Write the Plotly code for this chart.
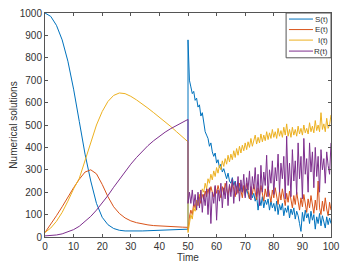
import numpy as np
import plotly.graph_objects as go

# deterministic part, t = 0..50 step 2
t_det = np.arange(0, 51, 2)
S_det = [1000, 985, 945, 880, 785, 660, 515, 370, 250, 150, 88, 55, 38, 30, 27, 26, 26, 27, 28, 29, 30, 31, 32, 33, 34, 35]
E_det = [20, 55, 95, 135, 180, 220, 258, 290, 300, 282, 235, 180, 135, 105, 85, 72, 64, 58, 54, 51, 49, 47, 46, 45, 44, 43]
I_det = [20, 40, 70, 110, 160, 215, 262, 340, 425, 500, 560, 605, 632, 643, 640, 628, 612, 595, 575, 555, 535, 515, 493, 470, 448, 425]
R_det = [5, 6, 9, 14, 22, 33, 48, 68, 92, 120, 150, 185, 222, 258, 292, 325, 355, 383, 408, 430, 450, 468, 484, 498, 512, 525]

# stochastic part, t = 50..100 step 0.5
t_sto = np.arange(50, 100.01, 0.5)
S_sto = [880, 700, 670, 640, 650, 610, 620, 580, 590, 540, 555, 500, 470, 455, 440, 405, 420, 380, 360, 375,
         330, 345, 310, 325, 290, 305, 275, 260, 285, 250, 240, 265, 230, 250, 215, 240, 205, 230, 200, 225,
         185, 215, 190, 170, 210, 175, 195, 160, 185, 120, 170, 140, 180, 130, 165, 145, 170, 120, 160, 130,
         150, 115, 160, 100, 145, 120, 150, 95, 130, 110, 140, 85, 125, 100, 130, 80, 115, 95, 60, 25,
         110, 70, 120, 85, 105, 60, 115, 75, 100, 35, 90, 60, 105, 50, 95, 70, 40, 90, 55, 85, 60]
E_sto = [30, 90, 120, 100, 150, 130, 165, 140, 180, 150, 190, 170, 205, 180, 215, 190, 225, 200, 180, 225,
         195, 230, 200, 175, 225, 190, 240, 205, 185, 230, 200, 245, 210, 180, 225, 195, 240, 205, 175, 230,
         195, 240, 200, 170, 225, 190, 235, 195, 165, 220, 185, 230, 190, 160, 215, 180, 225, 185, 155, 210,
         175, 220, 180, 145, 205, 165, 215, 170, 140, 195, 155, 205, 160, 130, 185, 145, 200, 150, 120, 175,
         135, 190, 140, 110, 170, 130, 185, 135, 105, 165, 120, 250, 130, 100, 160, 115, 175, 125, 95, 155, 120]
I_sto = [20, 60, 100, 80, 130, 115, 165, 145, 190, 170, 215, 200, 240, 215, 260, 240, 280, 255, 295, 270,
         310, 285, 320, 300, 340, 315, 350, 325, 365, 335, 370, 345, 385, 355, 395, 365, 405, 375, 410, 385,
         420, 390, 425, 400, 440, 405, 430, 455, 415, 445, 420, 460, 425, 455, 430, 470, 435, 465, 440, 480,
         445, 470, 440, 485, 450, 475, 445, 490, 455, 505, 450, 480, 445, 490, 455, 480, 450, 495, 460, 485,
         455, 500, 465, 485, 460, 510, 470, 495, 465, 520, 475, 500, 470, 555, 480, 505, 470, 530, 485, 500, 545]
R_sto = [150, 200, 150, 210, 140, 190, 120, 200, 130, 210, 110, 190, 140, 215, 100, 220, 60, 200, 150, 230,
         75, 210, 160, 240, 130, 220, 170, 250, 140, 235, 180, 260, 150, 245, 190, 270, 160, 255, 200, 280,
         175, 265, 210, 295, 165, 270, 215, 310, 180, 280, 140, 320, 200, 290, 230, 365, 180, 300, 240, 340,
         190, 310, 250, 370, 200, 330, 260, 360, 170, 450, 230, 330, 180, 390, 250, 340, 190, 420, 260, 360,
         170, 440, 280, 350, 200, 420, 290, 380, 220, 400, 270, 360, 200, 390, 300, 350, 240, 380, 320, 280, 420]

names = ["S(t)", "E(t)", "I(t)", "R(t)"]
colors = ["#0072BD", "#D95319", "#EDB120", "#7E2F8E"]
det = [S_det, E_det, I_det, R_det]
sto = [S_sto, E_sto, I_sto, R_sto]

FONT = "Liberation Sans, Arial"
TXT = "#333333"
AX = "#555555"

fig = go.Figure()
for name, col, d, s in zip(names, colors, det, sto):
    x = list(t_det) + list(t_sto)
    y = list(d) + list(s)
    fig.add_trace(go.Scatter(x=x, y=y, mode="lines", name=name, showlegend=False,
                             line=dict(color=col, width=1)))

# compact MATLAB-style legend drawn in paper coordinates
L, R, T, B = 0.843, 1.0, 1.0, 0.80
shapes = [dict(type="rect", xref="paper", yref="paper", x0=L, x1=R, y0=B, y1=T,
               line=dict(color=AX, width=1), fillcolor="white", layer="above")]
annotations = []
row_y = [0.973, 0.926, 0.879, 0.830]
for name, col, yy in zip(names, colors, row_y):
    shapes.append(dict(type="line", xref="paper", yref="paper", x0=0.853, x1=0.937, y0=yy, y1=yy,
                       line=dict(color=col, width=1), layer="above"))
    annotations.append(dict(xref="paper", yref="paper", x=0.995, y=yy, xanchor="right", yanchor="middle",
                            text=name, showarrow=False, font=dict(family=FONT, size=8, color=TXT)))

axis_common = dict(showline=True, linecolor=AX, linewidth=1, mirror="ticks",
                   ticks="inside", ticklen=3, tickcolor=AX, showgrid=False, automargin=False,
                   zeroline=False, tickfont=dict(family=FONT, size=10, color=TXT))

fig.update_layout(
    width=347, height=272,
    margin=dict(l=45, r=16, t=13, b=35),
    paper_bgcolor="white", plot_bgcolor="white",
    xaxis=dict(range=[0, 100], dtick=10, title=dict(text="Time", standoff=2,
               font=dict(family=FONT, size=10, color=TXT)), **axis_common),
    yaxis=dict(range=[0, 1000], dtick=100, title=dict(text="Numerical solutions", standoff=0,
               font=dict(family=FONT, size=10, color=TXT)), **axis_common),
    shapes=shapes, annotations=annotations,
    showlegend=False,
)

fig.write_html("out.html", config={"displayModeBar": False, "staticPlot": True},
               post_script="document.body.style.margin='0';document.body.style.overflow='hidden';")
